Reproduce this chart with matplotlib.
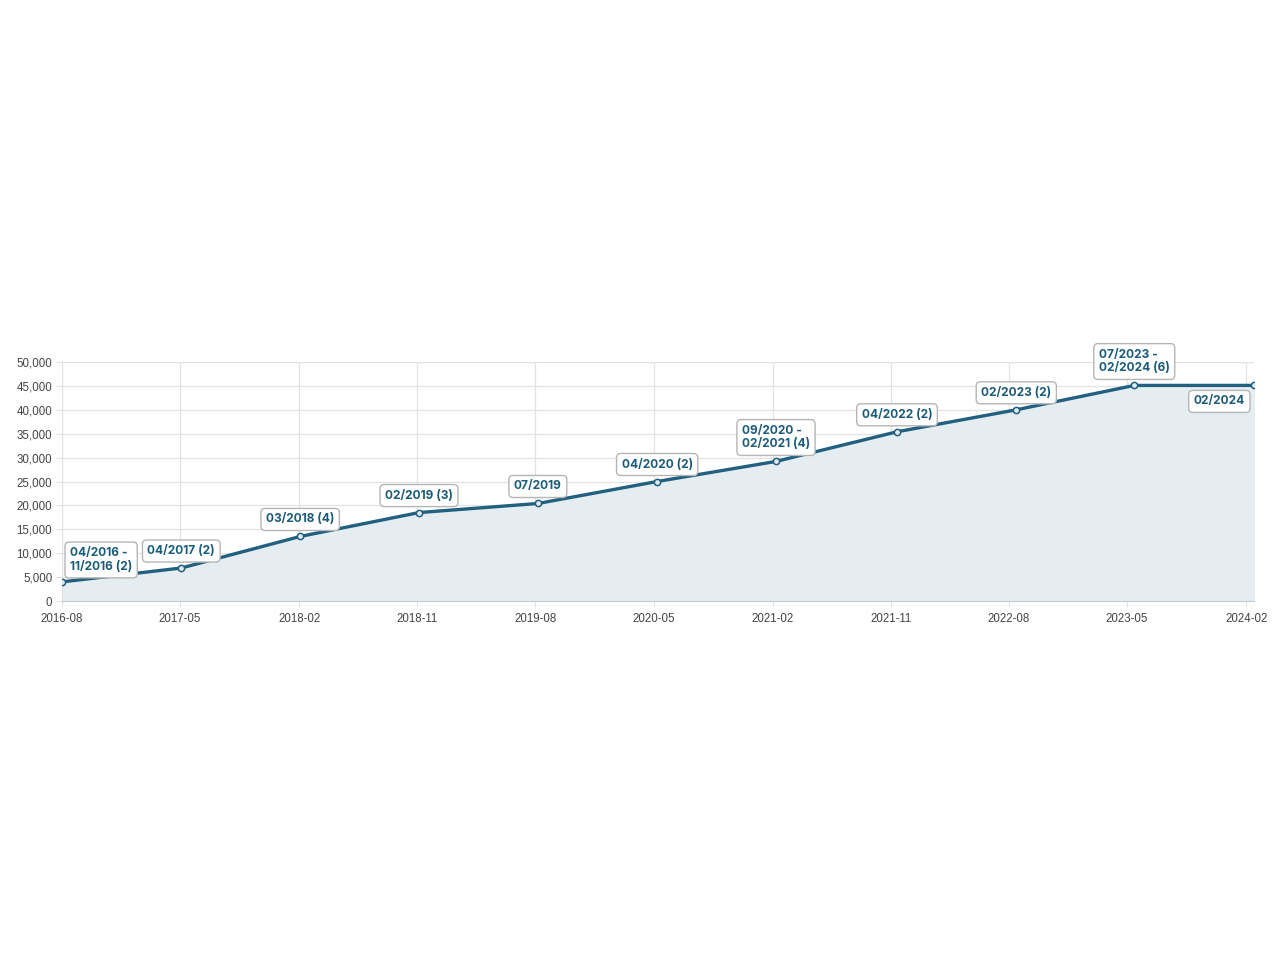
import matplotlib
matplotlib.use('Agg')
import matplotlib.pyplot as plt
import matplotlib.dates as mdates
from matplotlib.ticker import FuncFormatter
import numpy as np

# data
dates = ['2016-08-01', '2017-05-04', '2018-02-03', '2018-11-05', '2019-08-07',
         '2020-05-09', '2021-02-08', '2021-11-15', '2022-08-18', '2023-05-18',
         '2024-02-19']
values = [4000, 6900, 13500, 18500, 20400, 25000, 29200, 35400, 40000, 45100, 45100]
labels = ['04/2016 -\n11/2016 (2)', '04/2017 (2)', '03/2018 (4)', '02/2019 (3)',
          '07/2019', '04/2020 (2)', '09/2020 -\n02/2021 (4)', '04/2022 (2)',
          '02/2023 (2)', '07/2023 -\n02/2024 (6)', '02/2024']
tick_dates = ['2016-08-01', '2017-05-01', '2018-02-01', '2018-11-01', '2019-08-01',
              '2020-05-01', '2021-02-01', '2021-11-01', '2022-08-01', '2023-05-01',
              '2024-02-01']
y_ticks = [0, 5000, 10000, 15000, 20000, 25000, 30000, 35000, 40000, 45000, 50000]

x = np.array(dates, dtype='datetime64[D]')
xt = np.array(tick_dates, dtype='datetime64[D]')

line_color = '#22607f'
text_color = '#1b5c7a'
fill_color = '#e6edf1'
grid_color = '#e2e2e2'

plt.rcParams['font.family'] = ['Liberation Sans', 'DejaVu Sans']

fig = plt.figure(figsize=(12.8, 9.6), dpi=100)
ax = fig.add_axes([62 / 1280, 1 - 601 / 960, (1254 - 62) / 1280, (601 - 362) / 960])

ax.fill_between(x, values, 0, color=fill_color, zorder=1)
ax.plot(x, values, color=line_color, lw=2.4, zorder=3,
        marker='o', markersize=4.5, markerfacecolor='#e3eaef',
        markeredgecolor=line_color, markeredgewidth=1.1)

ax.set_xlim(x[0], x[-1])
ax.set_ylim(0, 50000)
ax.set_xticks(xt)
ax.xaxis.set_major_formatter(mdates.DateFormatter('%Y-%m'))
ax.set_yticks(y_ticks)
ax.yaxis.set_major_formatter(FuncFormatter(lambda v, p: f'{int(v):,}'))

ax.grid(True, color=grid_color, lw=0.9, zorder=0)
ax.set_axisbelow(True)
for s in ['top', 'right']:
    ax.spines[s].set_visible(False)
ax.spines['left'].set_color(grid_color)
ax.spines['bottom'].set_color('#c5cad0')
ax.tick_params(axis='both', length=4, color=grid_color, labelsize=8.3,
               labelcolor='#444444')
ax.tick_params(axis='x', pad=5)
ax.tick_params(axis='y', pad=3)

box = dict(boxstyle='round,pad=0.42,rounding_size=0.35', fc='white',
           ec='#b5b5b5', lw=1)

for i, (xi, yi, lab) in enumerate(zip(x, values, labels)):
    if i == 0:
        off, ha, va = (8, 9), 'left', 'bottom'
    elif i == len(labels) - 1:
        off, ha, va = (-9, -10), 'right', 'top'
    else:
        off, ha, va = (0, 11), 'center', 'bottom'
    ax.annotate(lab, (xi, yi), xytext=off, textcoords='offset pixels',
                ha=ha, va=va, multialignment='left', linespacing=1.2,
                fontsize=8.6, fontweight='bold', color=text_color,
                family=['Inter', 'DejaVu Sans'], bbox=box, zorder=5,
                annotation_clip=False)

fig.savefig('out.png', dpi=100)
